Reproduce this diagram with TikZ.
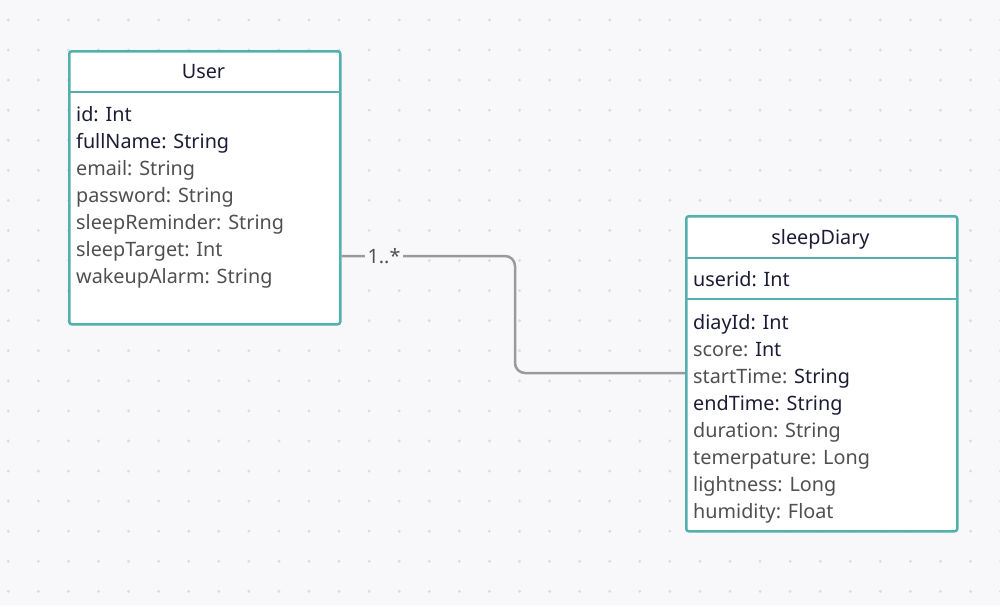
\documentclass[tikz,border=0pt]{standalone}
\usepackage{fontspec}
\setmainfont{Noto Sans}
\definecolor{bg}{HTML}{F8F8FA}
\definecolor{dotc}{HTML}{DCDCE0}
\definecolor{teal}{HTML}{52B0AD}
\definecolor{dark}{HTML}{1C1C36}
\definecolor{grey}{HTML}{505050}
\definecolor{conn}{HTML}{9A9A9A}
\tikzset{
  box/.style={draw=teal, line width=2.5pt, fill=white, rounded corners=2.5pt, anchor=north west, inner sep=0pt},
  sep/.style={draw=teal, line width=2.5pt},
  row/.style={anchor=base west, inner sep=0pt, font=\fontsize{19.8}{22}\selectfont, text=grey},
  title/.style={anchor=base, inner sep=0pt, font=\fontsize{19.8}{22}\selectfont, text=dark},
  connector/.style={draw=conn, line width=2.5pt, rounded corners=10pt},
  mult/.style={anchor=base, inner sep=3pt, fill=bg, font=\fontsize{19.8}{22}\selectfont, text=grey}
}
\begin{document}
\begin{tikzpicture}[x=1pt,y=-1pt]
\fill[bg] (0,0) rectangle (1000,606);
\useasboundingbox (0,0) rectangle (1000,606);
\foreach \i in {0,...,33}{\foreach \j in {0,...,19}{
  \fill[dotc] (8.3+30.07*\i, 20+30.07*\j) circle (1.6);}}
% User
\node[box, minimum width=271pt, minimum height=273pt] (user) at (68,50) {};
\draw[sep] (68,92) -- (339,92);
\node[title] (usert) at (203.5,78) {User};
\node[row, text=dark] (u1) at (76,121) {id: Int};
\node[row, text=dark] (u2) at (76,148) {fullName: String};
\node[row] (u3) at (76,175) {email: String};
\node[row] (u4) at (76,202) {password: String};
\node[row] (u5) at (76,229) {sleepReminder: String};
\node[row] (u6) at (76,256) {sleepTarget: Int};
\node[row] (u7) at (76,283) {wakeupAlarm: String};
% sleepDiary
\node[box, minimum width=271pt, minimum height=315pt] (diary) at (685,215) {};
\draw[sep] (685,258) -- (956,258);
\draw[sep] (685,299) -- (956,299);
\node[title] (diaryt) at (820.5,244) {sleepDiary};
\node[row, text=dark] (d0) at (693,286) {userid: Int};
\node[row, text=dark] (d1) at (693,329) {diayId: Int};
\node[row] (d2) at (693,356) {score: \textcolor{dark}{Int}};
\node[row] (d3) at (693,383) {startTime: \textcolor{dark}{String}};
\node[row, text=dark] (d4) at (693,410) {endTime: String};
\node[row] (d5) at (693,437) {duration: String};
\node[row] (d6) at (693,464) {temerpature: Long};
\node[row] (d7) at (693,491) {lightness: Long};
\node[row] (d8) at (693,518) {humidity: Float};
% connector
\coordinate (ua) at (user.east |- 0,256);
\coordinate (da) at (diary.west |- 0,373);
\draw[connector] (ua) -- (515,256) -- (515,373) -- (da);
\node[mult] (m) at (384,263) {1..*};
\end{tikzpicture}
\end{document}
